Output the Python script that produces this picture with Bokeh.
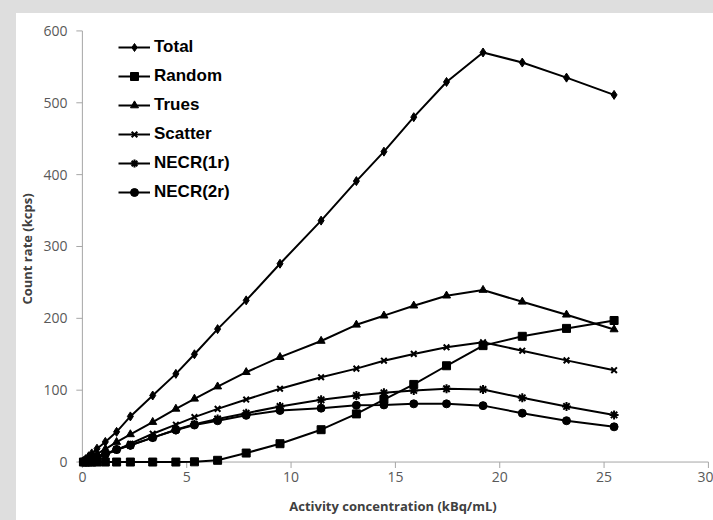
from bokeh.plotting import figure
from bokeh.models import Range1d, FixedTicker, Legend, LegendItem, Title
from bokeh.layouts import column
from bokeh.embed import file_html
from bokeh.resources import INLINE

activity = [0.05, 0.15, 0.3, 0.45, 0.7, 1.1, 1.64, 2.3, 3.37, 4.48, 5.37, 6.48, 7.85,
            9.47, 11.44, 13.13, 14.45, 15.88, 17.45, 19.2, 21.08, 23.2, 25.48]
total = [1.3, 4, 8, 12, 18.6, 28, 42, 63.5, 92.6, 122.7, 150, 185, 225, 276, 336, 391,
         432, 480, 529, 570, 556, 535, 511]
random_ = [0, 0, 0, 0, 0, 0, 0, 0, 0, 0, 0.3, 2.4, 12.5, 25.5, 45, 67, 87, 108, 134,
           162, 175, 186, 197]
trues = [0.8, 2.4, 4.8, 7.2, 11.5, 18, 27.8, 38.5, 55.6, 74, 88, 105, 125, 146, 168.5,
         191, 203.7, 217.6, 231.5, 239.4, 223, 205, 184.5]
scatter = [0.5, 1.6, 3.2, 4.8, 7.1, 10.5, 16.5, 25.5, 39.4, 52, 62.5, 74, 87, 102, 118,
           130, 141, 150.5, 159.7, 166.7, 155, 141.5, 127.8]
necr1r = [0.4, 1.4, 2.8, 4.3, 6.8, 11, 17.5, 23.3, 34, 45, 52.5, 60, 68, 77.4, 86.6,
          92.6, 96.4, 99.6, 102, 101, 89.4, 77.4, 65.5]
necr2r = [0.4, 1.4, 2.8, 4.3, 6.8, 11, 17.5, 23.3, 34, 44.5, 51.5, 57.5, 65, 71.8, 75,
          79, 79.5, 81, 81, 78.5, 68, 57.5, 49]

series_names = ["Total", "Random", "Trues", "Scatter", "NECR(1r)", "NECR(2r)"]
x_ticks = [0, 5, 10, 15, 20, 25, 30]
y_ticks = [0, 100, 200, 300, 400, 500, 600]
x_title = "Activity concentration (kBq/mL)"
y_title = "Count rate (kcps)"

AXIS_GRAY = "#a6a6a6"
X_TICK_LEN = 8.3    # 6 px in y data units
Y_TICK_LEN = 0.29   # 6 px in x data units

p = figure(width=713, height=520, output_backend="svg", toolbar_location=None,
           x_range=Range1d(-0.33, 30.1), y_range=Range1d(-9, 602),
           min_border_left=75, min_border_right=3, min_border_top=29, min_border_bottom=52)
p.outline_line_color = None
p.xgrid.visible = False
p.ygrid.visible = False
p.background_fill_color = "white"
p.border_fill_alpha = 0

for ax in (p.xaxis[0], p.yaxis[0]):
    ax.axis_line_color = None
    ax.major_tick_line_color = None
    ax.major_tick_in = 0
    ax.major_tick_out = 0
    ax.minor_tick_line_color = None
    ax.major_label_text_font = "Open Sans"
    ax.major_label_text_font_size = "14px"
    ax.major_label_text_color = "#595959"
    ax.axis_label_text_font = "Open Sans"
    ax.axis_label_text_font_style = "bold"
    ax.axis_label_text_font_size = "13px"
    ax.axis_label_text_color = "#404040"

p.xaxis.ticker = FixedTicker(ticks=x_ticks)
p.yaxis.ticker = FixedTicker(ticks=y_ticks)
p.xaxis.axis_label = x_title
p.xaxis.major_label_standoff = 3
p.xaxis.axis_label_standoff = 12
p.yaxis.major_label_standoff = 8

ytitle = Title(text=y_title, align="center", standoff=9, offset=0,
               text_font="Open Sans", text_font_style="bold", text_font_size="13px",
               text_color="#404040")
p.add_layout(ytitle, "left")

# axis lines and outward tick marks at the data origin
p.segment(x0=[x_ticks[0], 0], y0=[0, y_ticks[0]], x1=[x_ticks[-1], 0], y1=[0, y_ticks[-1]],
          line_color=AXIS_GRAY, line_width=1, level="underlay")
p.segment(x0=x_ticks, y0=[0] * len(x_ticks), x1=x_ticks, y1=[-X_TICK_LEN] * len(x_ticks),
          line_color=AXIS_GRAY, line_width=1, level="underlay")
p.segment(x0=[0] * len(y_ticks), y0=y_ticks, x1=[-Y_TICK_LEN] * len(y_ticks), y1=y_ticks,
          line_color=AXIS_GRAY, line_width=1, level="underlay")

data = [total, random_, trues, scatter, necr1r, necr2r]
markers = ["diamond", "square", "triangle", "x", "asterisk", "circle"]
sizes = [9, 8, 8, 8, 9, 8]
items = []
for name, ys, mk, sz in zip(series_names, data, markers, sizes):
    ln = p.line(activity, ys, line_color="black", line_width=2)
    sc = p.scatter(activity, ys, marker=mk, size=sz, fill_color="black",
                   line_color="black", line_width=2 if mk in ("x", "asterisk") else 1)
    items.append(LegendItem(label=name, renderers=[ln, sc]))

legend = Legend(items=items, location=(43, 266), glyph_width=32, glyph_height=20,
                label_height=20, spacing=9, padding=0, margin=0, label_standoff=4,
                border_line_color=None, background_fill_alpha=0,
                label_text_font="Liberation Sans", label_text_font_style="bold",
                label_text_font_size="17px", label_text_color="black")
p.add_layout(legend, "center")

frame_bg = ("linear-gradient(to bottom, #dedede 0px, #dedede 13px, transparent 13px), "
            "linear-gradient(to right, #dedede 0px, #dedede 16px, #ffffff 16px)")
root = column(p, styles={"background": frame_bg})
open("out.html", "w").write(file_html(root, INLINE))
